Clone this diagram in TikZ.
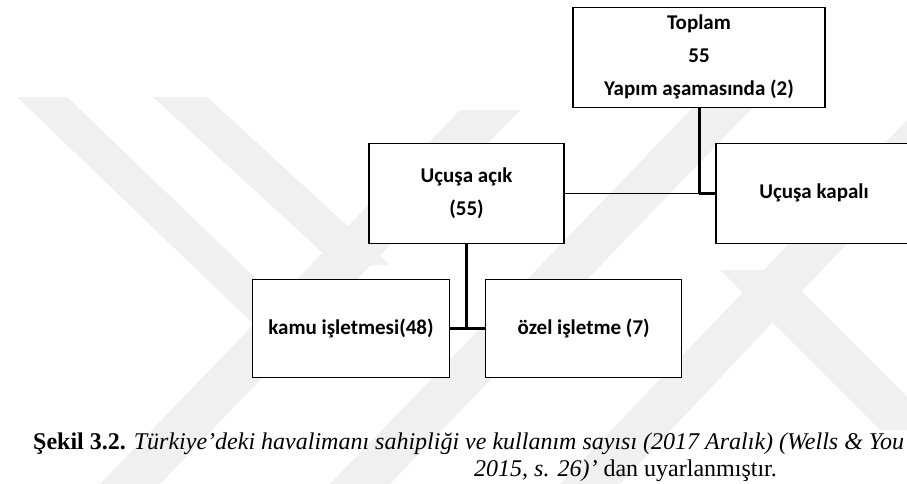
\documentclass[tikz,border=0pt]{standalone}
\usepackage{fontspec}
\setmainfont{Liberation Serif}
\newfontfamily\boxfamily{Carlito}
\begin{document}
\begin{tikzpicture}[x=1pt,y=-1pt,
  wm/.style={fill=black!6},
  boxnode/.style={draw=black, line width=1.3pt, fill=white, align=center,
    inner sep=0pt, font=\boxfamily\bfseries\fontsize{21}{33}\selectfont},
  thinline/.style={line width=1.4pt},
  thickline/.style={line width=3pt},
  captext/.style={inner sep=0pt, font=\fontsize{24}{28}\selectfont}
]
\useasboundingbox (0,0) rectangle (907,484);
\clip (0,0) rectangle (907,484);
% watermark bands
\fill[wm] (17,97) -- (67,97) -- (320,340) -- (270,340) -- cycle;
\fill[wm] (153,97) -- (207,97) -- (390,265) -- (336,265) -- cycle;
\fill[wm] (100,484) -- (160,484) -- (520,110) -- (460,110) -- cycle;
\fill[wm] (330,484) -- (390,484) -- (760,100) -- (700,100) -- cycle;
\fill[wm] (560,484) -- (620,484) -- (907,180) -- (907,120) -- cycle;
\fill[wm] (720,270) -- (780,270) -- (940,430) -- (880,430) -- cycle;
% boxes
\node[boxnode, minimum width=252pt, minimum height=100pt] (top) at (699,57.3)
  {Toplam\\55\\Yapım aşamasında (2)};
\node[boxnode, minimum width=195pt, minimum height=100pt] (acik) at (466.5,193.3)
  {Uçuşa açık\\(55)};
\node[boxnode, minimum width=196pt, minimum height=100pt] (kapali) at (814,193.3)
  {Uçuşa kapalı};
\node[boxnode, minimum width=196.6pt, minimum height=98pt] (kamu) at (351,328.3)
  {kamu işletmesi(48)};
\node[boxnode, minimum width=196pt, minimum height=98pt] (ozel) at (583.7,328.3)
  {özel işletme (7)};
% connectors
\coordinate (j1) at (top.south |- acik.east);
\draw[thickline] (top.south) -- (j1);
\draw[thinline] (acik.east) -- (j1);
\draw[thickline] (j1) -- (kapali.west);
\coordinate (j2) at (acik.south |- kamu.east);
\draw[thickline] (acik.south) -- (j2);
\draw[thickline] (kamu.east) -- (ozel.west);
% caption
\node[captext, anchor=base west] (cap1) at (33,449)
  {\textbf{Şekil 3.2.} \textit{Türkiye’deki havalimanı sahipliği ve kullanım sayısı (2017 Aralık) (Wells \& You}};
\node[captext, anchor=base west] (cap2) at (474,476)
  {\textit{2015, s. 26)’} dan uyarlanmıştır.};
\end{tikzpicture}
\end{document}
